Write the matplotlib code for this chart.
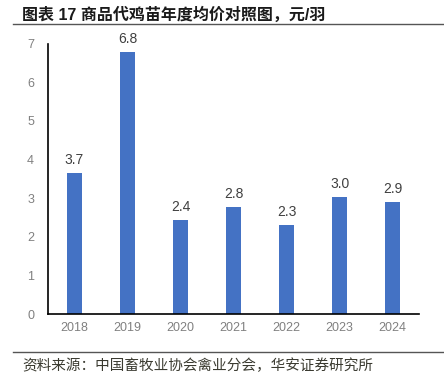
import matplotlib
matplotlib.use("Agg")
import matplotlib.pyplot as plt
from matplotlib.lines import Line2D

plt.rcParams['font.family'] = ['Liberation Sans', 'Noto Sans CJK SC', 'DejaVu Sans']

# data
years = ['2018', '2019', '2020', '2021', '2022', '2023', '2024']
prices = [3.66, 6.79, 2.44, 2.78, 2.31, 3.04, 2.90]
y_ticks = [0, 1, 2, 3, 4, 5, 6, 7]

title_text = '图表 17 商品代鸡苗年度均价对照图，元/羽'
source_text = '资料来源：中国畜牧业协会禽业分会，华安证券研究所'

fig = plt.figure(figsize=(4.44, 3.79), dpi=100)
ax = fig.add_axes([0.108, 0.1715, 0.836, 0.7137])

x = range(len(years))
bars = ax.bar(x, prices, width=0.28, color='#4472C4', zorder=2)

# value labels above each bar
for xi, v in zip(x, prices):
    ax.annotate('%.1f' % v, (xi, v), xytext=(0, 4), textcoords='offset points',
                ha='center', va='bottom', fontsize=10, color='#404040')

ax.set_xlim(-0.5, len(years) - 0.5)
ax.set_ylim(0, 7)
ax.set_yticks(y_ticks)
ax.set_xticks(list(x))
ax.set_xticklabels(years)
ax.tick_params(axis='both', length=0, labelsize=9, colors='#808080')
ax.tick_params(axis='y', pad=10)
ax.tick_params(axis='x', pad=6)

for s in ['top', 'right']:
    ax.spines[s].set_visible(False)
for s in ['left', 'bottom']:
    ax.spines[s].set_color('black')
    ax.spines[s].set_linewidth(1.2)

# header / footer
fig.text(0.05, 0.962, title_text, fontsize=11.5, fontweight='bold',
         color='#1a1a1a', ha='left', va='center')
fig.add_artist(Line2D([0.03, 1.0], [0.937, 0.937], color='#555555', lw=1.0))
fig.add_artist(Line2D([0.03, 1.0], [0.071, 0.071], color='#555555', lw=1.0))
fig.text(0.05, 0.034, source_text, fontsize=10.5, color='#3a3a30',
         ha='left', va='center')

fig.savefig('out.png', dpi=100)
